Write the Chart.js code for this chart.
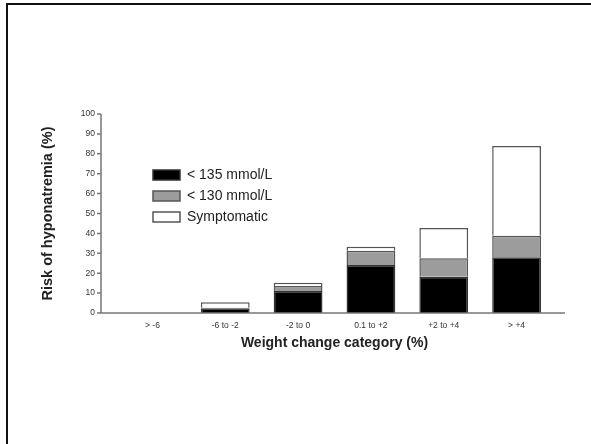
<!DOCTYPE html>
<html>
<head>
<meta charset="utf-8">
<title>Risk of hyponatremia by weight change</title>
<script src="https://cdn.jsdelivr.net/npm/chart.js@4/dist/chart.umd.min.js"></script>
<style>
  body { margin: 0; background: #fff; }
  .wrap { position: relative; width: 591px; height: 444px; overflow: hidden; }
  .frame { position: absolute; left: 6px; top: 3px; width: 600px; height: 460px;
           border-top: 2.5px solid #111; border-left: 2.5px solid #111; pointer-events: none; }
</style>
</head>
<body>
<div class="wrap">
  <canvas id="chart" width="591" height="444"></canvas>
  <div class="frame"></div>
</div>
<script>
// weight change categories (%)
const categories = ['> -6', '-6 to -2', '-2 to 0', '0.1 to +2', '+2 to +4', '> +4'];
// stacked segment heights (%)
const below135 = [0, 2.4, 11.1, 24.1, 18.2, 28.0];
const below130 = [0, 0.3, 2.5, 7.2, 9.3, 10.8];
const symptomatic = [0, 2.7, 1.6, 2.0, 15.2, 45.1];
const yTicks = [0, 10, 20, 30, 40, 50, 60, 70, 80, 90, 100];

Chart.defaults.font.family = '"Liberation Sans", Arial, sans-serif';

// prism-style axes: detached from the first/last bar, small ticks on y
const axisLines = {
  id: 'axisLines',
  afterDatasetsDraw(chart) {
    const { ctx, chartArea, scales: { y } } = chart;
    const x0 = chartArea.left - 15;
    const yZero = y.getPixelForValue(0);
    ctx.save();
    ctx.strokeStyle = '#777';
    ctx.lineWidth = 1.5;
    ctx.beginPath();
    ctx.moveTo(x0, y.getPixelForValue(yTicks[yTicks.length - 1]));
    ctx.lineTo(x0, yZero);
    ctx.lineTo(chartArea.right + 12, yZero);
    yTicks.forEach(v => {
      const py = y.getPixelForValue(v);
      ctx.moveTo(x0 - 4, py);
      ctx.lineTo(x0, py);
    });
    ctx.stroke();
    ctx.restore();
  }
};

// put the legend inside the plot, upper left
const legendSpot = {
  id: 'legendSpot',
  afterLayout(chart) {
    const lg = chart.legend;
    lg.left = 146;
    lg.top = 161;
    lg.right = lg.left + lg.width;
    lg.bottom = lg.top + lg.height;
  }
};

const segStyle = { borderColor: '#555', borderWidth: 1.5, borderSkipped: 'start' };

new Chart(document.getElementById('chart'), {
  type: 'bar',
  data: {
    labels: categories,
    datasets: [
      { label: '< 135 mmol/L', data: below135, backgroundColor: '#000', ...segStyle, borderColor: '#333' },
      { label: '< 130 mmol/L', data: below130, backgroundColor: '#9c9c9c', ...segStyle },
      { label: 'Symptomatic', data: symptomatic, backgroundColor: '#fff', ...segStyle }
    ]
  },
  options: {
    responsive: false,
    animation: false,
    barPercentage: 0.67,
    categoryPercentage: 1,
    layout: { padding: { left: 39, top: 114, right: 38, bottom: 92 } },
    plugins: {
      legend: {
        position: 'chartArea',
        align: 'start',
        labels: {
          boxWidth: 27,
          boxHeight: 10,
          padding: 7,
          color: '#222',
          font: { size: 14 }
        }
      },
      tooltip: { enabled: false }
    },
    scales: {
      x: {
        stacked: true,
        grid: { display: false, drawTicks: false },
        border: { display: false },
        ticks: { color: '#333', font: { size: 8.5 }, padding: 8, maxRotation: 0 },
        title: {
          display: true,
          text: 'Weight change category (%)',
          color: '#222',
          font: { size: 14, weight: 'bold' },
          padding: 0
        },
        afterFit(scale) { scale.height = 39; }
      },
      y: {
        stacked: true,
        min: 0,
        max: 100,
        grid: { display: false, drawTicks: false },
        border: { display: false },
        ticks: { stepSize: 10, color: '#333', font: { size: 8.5 }, padding: 21 },
        title: {
          display: true,
          text: 'Risk of hyponatremia (%)',
          color: '#222',
          font: { size: 14.5, weight: 'bold' },
          padding: 0
        },
        afterFit(scale) { scale.width = 77; }
      }
    }
  },
  plugins: [axisLines, legendSpot]
});
</script>
</body>
</html>
